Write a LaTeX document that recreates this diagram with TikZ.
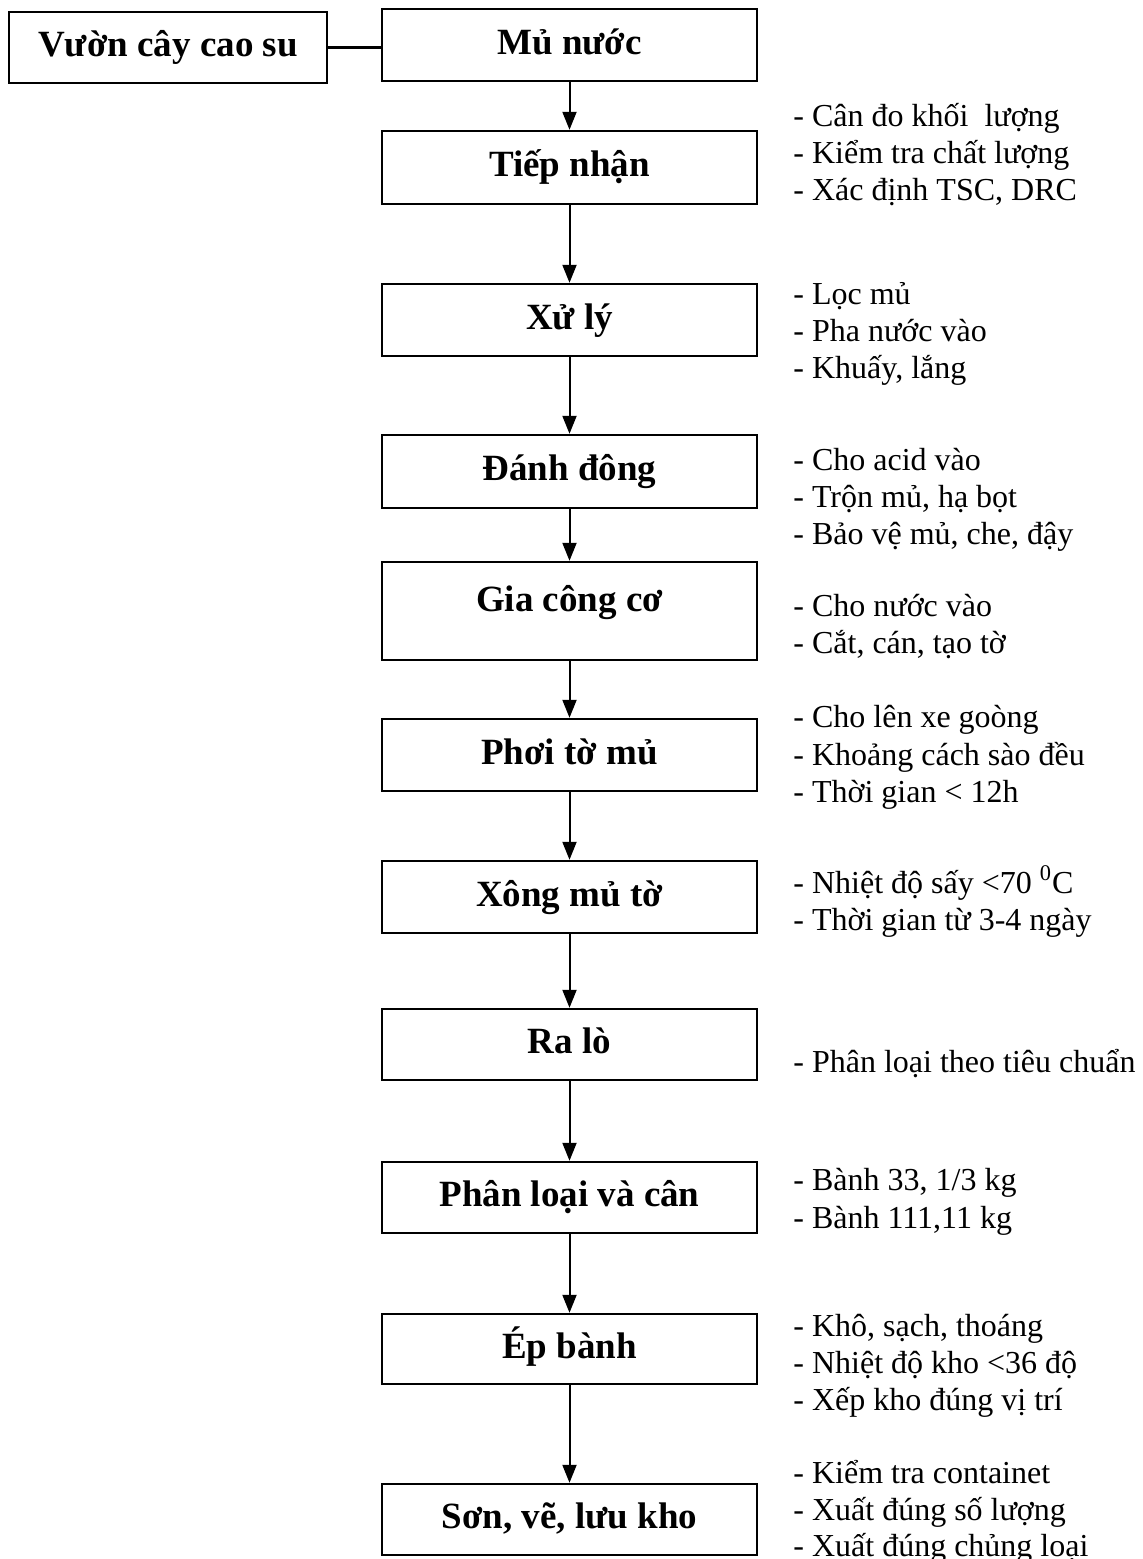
\documentclass[tikz,border=0pt]{standalone}
\usepackage{fontspec}
\setmainfont{Liberation Serif}
\usetikzlibrary{arrows.meta}
\newcommand{\boxfont}{\fontsize{18.5pt}{22pt}\selectfont\bfseries}
\newcommand{\sidefont}{\fontsize{16pt}{18.5pt}\selectfont}
\tikzset{
  stepbox/.style={draw, line width=1.2pt, minimum width=187.5pt, inner sep=0pt,
    font=\boxfont, text height=0.93em, text depth=0pt},
  flow/.style={line width=1pt, -{Triangle[width=7pt,length=9pt]}},
  side/.style={anchor=base west, inner sep=0pt, font=\sidefont}
}
\begin{document}
\begin{tikzpicture}[x=0.5pt,y=-0.5pt]
\useasboundingbox (0,0) rectangle (1143,1559);
% left box
\node[stepbox, minimum width=159pt, minimum height=35.5pt] (vuon) at (168,47.5) {Vườn cây cao su};
% main boxes
\node[stepbox, minimum height=36pt] (b1) at (569.5,45) {Mủ nước};
\node[stepbox, minimum height=36.5pt] (b2) at (569.5,167.5) {Tiếp nhận};
\node[stepbox, minimum height=36pt] (b3) at (569.5,320) {Xử lý};
\node[stepbox, minimum height=36.5pt] (b4) at (569.5,471.5) {Đánh đông};
\node[stepbox, minimum height=49pt, text height=0.66em, text depth=0.66em] (b5) at (569.5,611) {Gia công cơ};
\node[stepbox, minimum height=36pt] (b6) at (569.5,755) {Phơi tờ mủ};
\node[stepbox, minimum height=36pt] (b7) at (569.5,897) {Xông mủ tờ};
\node[stepbox, minimum height=35.5pt] (b8) at (569.5,1044.5) {Ra lò};
\node[stepbox, minimum height=35.5pt] (b9) at (569.5,1197.5) {Phân loại và cân};
\node[stepbox, minimum height=35pt] (b10) at (569.5,1349) {Ép bành};
\node[stepbox, minimum height=35.5pt] (b11) at (569.5,1519.5) {Sơn, vẽ, lưu kho};
% connectors
\draw[line width=1.4pt] (vuon.east) -- (vuon.east -| b1.west);
\draw[flow] (b1) -- (b2);
\draw[flow] (b2) -- (b3);
\draw[flow] (b3) -- (b4);
\draw[flow] (b4) -- (b5);
\draw[flow] (b5) -- (b6);
\draw[flow] (b6) -- (b7);
\draw[flow] (b7) -- (b8);
\draw[flow] (b8) -- (b9);
\draw[flow] (b9) -- (b10);
\draw[flow] (b10) -- (b11);
% side notes
\node[side] (s2a) at (793,126) {- Cân đo khối\ \ lượng};
\node[side] (s2b) at (793,163) {- Kiểm tra chất lượng};
\node[side] (s2c) at (793,200) {- Xác định TSC, DRC};
\node[side] (s3a) at (793,304) {- Lọc mủ};
\node[side] (s3b) at (793,341) {- Pha nước vào};
\node[side] (s3c) at (793,378) {- Khuấy, lắng};
\node[side] (s4a) at (793,470) {- Cho acid vào};
\node[side] (s4b) at (793,507) {- Trộn mủ, hạ bọt};
\node[side] (s4c) at (793,544) {- Bảo vệ mủ, che, đậy};
\node[side] (s5a) at (793,616) {- Cho nước vào};
\node[side] (s5b) at (793,653) {- Cắt, cán, tạo tờ};
\node[side] (s6a) at (793,727) {- Cho lên xe goòng};
\node[side] (s6b) at (793,765) {- Khoảng cách sào đều};
\node[side] (s6c) at (793,802) {- Thời gian < 12h};
\node[side] (s7a) at (793,893) {- Nhiệt độ sấy <70 \textsuperscript{0}C};
\node[side] (s7b) at (793,930) {- Thời gian từ 3-4 ngày};
\node[side] (s8a) at (793,1072) {- Phân loại theo tiêu chuẩn};
\node[side] (s9a) at (793,1190) {- Bành 33, 1/3 kg};
\node[side] (s9b) at (793,1228) {- Bành 111,11 kg};
\node[side] (s10a) at (793,1336) {- Khô, sạch, thoáng};
\node[side] (s10b) at (793,1373) {- Nhiệt độ kho <36 độ};
\node[side] (s10c) at (793,1410) {- Xếp kho đúng vị trí};
\node[side] (s11a) at (793,1483) {- Kiểm tra containet};
\node[side] (s11b) at (793,1520) {- Xuất đúng số lượng};
\node[side] (s11c) at (793,1556) {- Xuất đúng chủng loại};
\end{tikzpicture}
\end{document}
